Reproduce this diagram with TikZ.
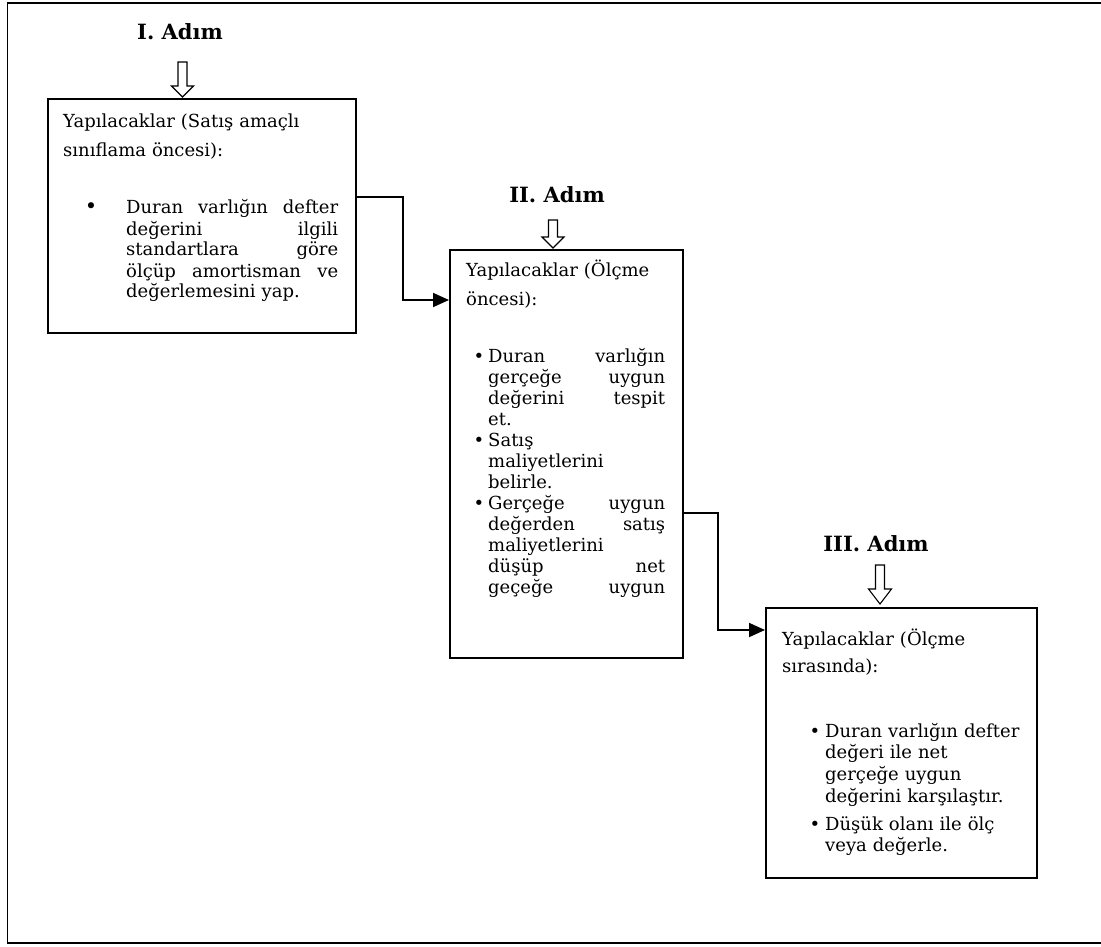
\documentclass[tikz,border=0pt]{standalone}
\usepackage{fontspec}
\setmainfont{DejaVu Serif}
\usetikzlibrary{arrows.meta}
\newcommand{\J}[2]{\leavevmode\hbox to #1{#2}}
\tikzset{
  box/.style={draw, line width=1.8pt, rectangle, inner sep=0pt, anchor=north west},
  txt/.style={anchor=base west, inner sep=0pt, align=left, font=\fontsize{18}{21}\selectfont},
  hdr/.style={txt, font=\fontsize{18}{29}\selectfont},
  bul/.style={anchor=base, inner sep=0pt, font=\fontsize{18}{21}\selectfont},
  ttl/.style={anchor=base, inner sep=0pt, font=\fontsize{21}{25}\selectfont\bfseries},
  conn/.style={line width=1.8pt, -{Triangle[length=16pt,width=14pt]}},
  hollow/.style={draw, line width=1.1pt, fill=white, line join=miter},
  frame/.style={draw, line width=1.5pt}
}
\begin{document}
\begin{tikzpicture}[x=1pt,y=-1pt]
\useasboundingbox (0,0) rectangle (1101,947);
\begin{scope}
\clip (0,0) rectangle (1101,947);
\draw[frame] (7.5,3) rectangle (1120,943);
\end{scope}

% boxes
\node[box, minimum width=308pt, minimum height=234pt] (b1) at (47,98) {};
\node[box, minimum width=233pt, minimum height=408pt] (b2) at (449,249) {};
\node[box, minimum width=271pt, minimum height=270pt] (b3) at (765,607) {};

% titles
\node[ttl] (t1) at (180,40) {I. Adım};
\node[ttl] (t2) at (557,202) {II. Adım};
\node[ttl] (t3) at (876,551) {III. Adım};

% hollow arrows
\draw[hollow] (178,62) -- (187,62) -- (187,86) -- (193.5,86) -- (182.5,97) -- (171.5,86) -- (178,86) -- cycle;
\draw[hollow] (548.5,220) -- (557.5,220) -- (557.5,237) -- (564,237) -- (553,248) -- (542,237) -- (548.5,237) -- cycle;
\draw[hollow] (875.5,565) -- (884.5,565) -- (884.5,589) -- (891.5,589) -- (880,604) -- (868.5,589) -- (875.5,589) -- cycle;

% box 1 text
\node[hdr, text width=290pt] (h1) at (63,128) {Yapılacaklar (Satış amaçlı\\sınıflama öncesi):};
\node[bul, font=\fontsize{21}{21}\selectfont] (d1) at (91,214) {•};
\node[txt, text width=214pt] (p1) at (126,214) {\J{212pt}{Duran\hfill varlığın\hfill defter}\\
\J{212pt}{değerini\hfill ilgili}\\
\J{212pt}{standartlara\hfill göre}\\
\J{212pt}{ölçüp\hfill amortisman\hfill ve}\\
değerlemesini yap.};

% box 2 text
\node[hdr, text width=200pt] (h2) at (466,276) {Yapılacaklar (Ölçme\\öncesi):};
\node[bul] (d2a) at (479,362) {•};
\node[txt, text width=180pt] (p2a) at (488,362) {\J{177pt}{Duran\hfill varlığın}\\
\J{177pt}{gerçeğe\hfill uygun}\\
\J{177pt}{değerini\hfill tespit}\\
et.};
\node[bul] (d2b) at (479,446) {•};
\node[txt, text width=180pt] (p2b) at (488,446) {Satış\\maliyetlerini\\belirle.};
\node[bul] (d2c) at (479,509) {•};
\node[txt, text width=180pt] (p2c) at (488,509) {\J{177pt}{Gerçeğe\hfill uygun}\\
\J{177pt}{değerden\hfill satış}\\
maliyetlerini\\
\J{177pt}{düşüp\hfill net}\\
\J{177pt}{geçeğe\hfill uygun}};

% box 3 text
\node[hdr, text width=240pt, font=\fontsize{18}{27}\selectfont] (h3) at (782,645) {Yapılacaklar (Ölçme\\sırasında):};
\node[bul] (d3a) at (815,737) {•};
\node[txt, text width=205pt, font=\fontsize{18}{21.7}\selectfont] (p3a) at (825,737) {Duran varlığın defter\\değeri ile net\\gerçeğe uygun\\değerini karşılaştır.};
\node[bul] (d3b) at (815,830) {•};
\node[txt, text width=205pt, font=\fontsize{18}{21.7}\selectfont] (p3b) at (825,830) {Düşük olanı ile ölç\\veya değerle.};

% connectors
\coordinate (k1) at (403,197);
\coordinate (k2) at (403,300);
\coordinate (k3) at (718,513);
\coordinate (k4) at (718,630);
\draw[conn] (b1.east |- k1) -- (k1) -- (k2) -- (b2.west |- k2);
\draw[conn] (b2.east |- k3) -- (k3) -- (k4) -- (b3.west |- k4);
\end{tikzpicture}
\end{document}
